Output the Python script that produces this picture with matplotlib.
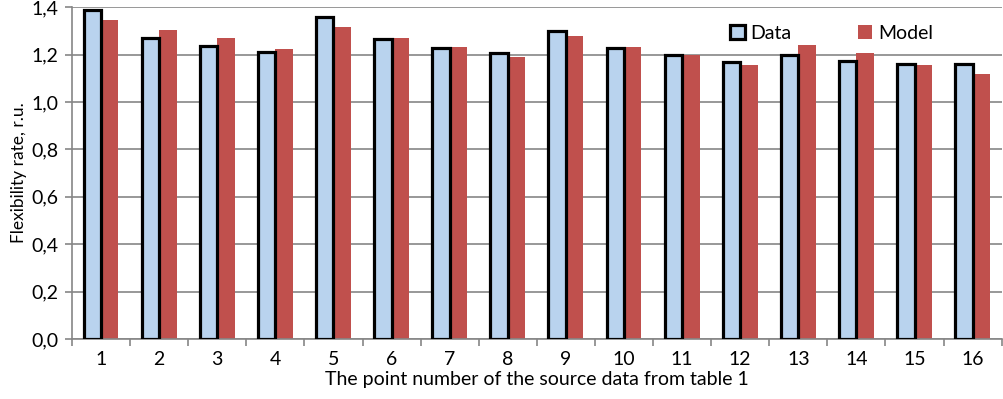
import matplotlib.pyplot as plt
import numpy as np
from matplotlib.ticker import FuncFormatter

# values
points = [str(i) for i in range(1, 17)]
data_vals = [1.39, 1.27, 1.235, 1.21, 1.36, 1.265, 1.228, 1.205, 1.30, 1.228,
             1.198, 1.17, 1.198, 1.173, 1.16, 1.16]
model_vals = [1.345, 1.305, 1.27, 1.225, 1.315, 1.27, 1.232, 1.19, 1.278, 1.232,
              1.198, 1.157, 1.24, 1.205, 1.158, 1.12]

plt.rcParams['font.family'] = ['Lato', 'DejaVu Sans']

fig = plt.figure(figsize=(10.04, 3.99), dpi=100)
ax = fig.add_axes([0.0717, 0.1504, 0.926, 0.8316])

x = np.arange(len(points))
w = 0.3
ax.bar(x - w / 2, data_vals, w, color='#B9D3EE', edgecolor='black', linewidth=2.3,
       label='Data', zorder=3)
ax.bar(x + w / 2, model_vals, w, color='#C0504D', label='Model', zorder=2)

ax.set_xlim(-0.5, len(points) - 0.5)
ax.set_ylim(0, 1.4)
ax.set_yticks(np.arange(0, 1.41, 0.2))
ax.yaxis.set_major_formatter(FuncFormatter(lambda v, p: f'{v:.1f}'.replace('.', ',')))
ax.set_xticks(x)
ax.set_xticklabels(points)
ax.set_xticks(np.arange(-0.5, len(points), 1), minor=True)

ax.grid(axis='y', color='#868686', linewidth=1.2, zorder=0)
for s in ['top', 'right']:
    ax.spines[s].set_visible(False)
ax.spines['left'].set_color('#868686')
ax.spines['bottom'].set_color('#868686')
ax.spines['left'].set_linewidth(1.2)
ax.spines['bottom'].set_linewidth(1.2)
ax.tick_params(axis='x', which='major', length=0, pad=9, labelsize=14)
ax.tick_params(axis='x', which='minor', length=5, color='#868686', width=1.2)
ax.tick_params(axis='y', length=5, color='#868686', width=1.2, labelsize=14, pad=5)

ax.set_ylabel('Flexibility rate, r.u.', fontsize=12.5, labelpad=3)
ax.set_xlabel('The point number of the source data from table 1', fontsize=14, labelpad=2)

leg = ax.legend(loc='upper right', bbox_to_anchor=(0.945, 1.0), ncol=2, fontsize=14,
                frameon=False, handlelength=0.75, handleheight=0.75,
                handletextpad=0.3, columnspacing=3.4)
leg.set_zorder(5)

fig.savefig('out.png', dpi=100)
